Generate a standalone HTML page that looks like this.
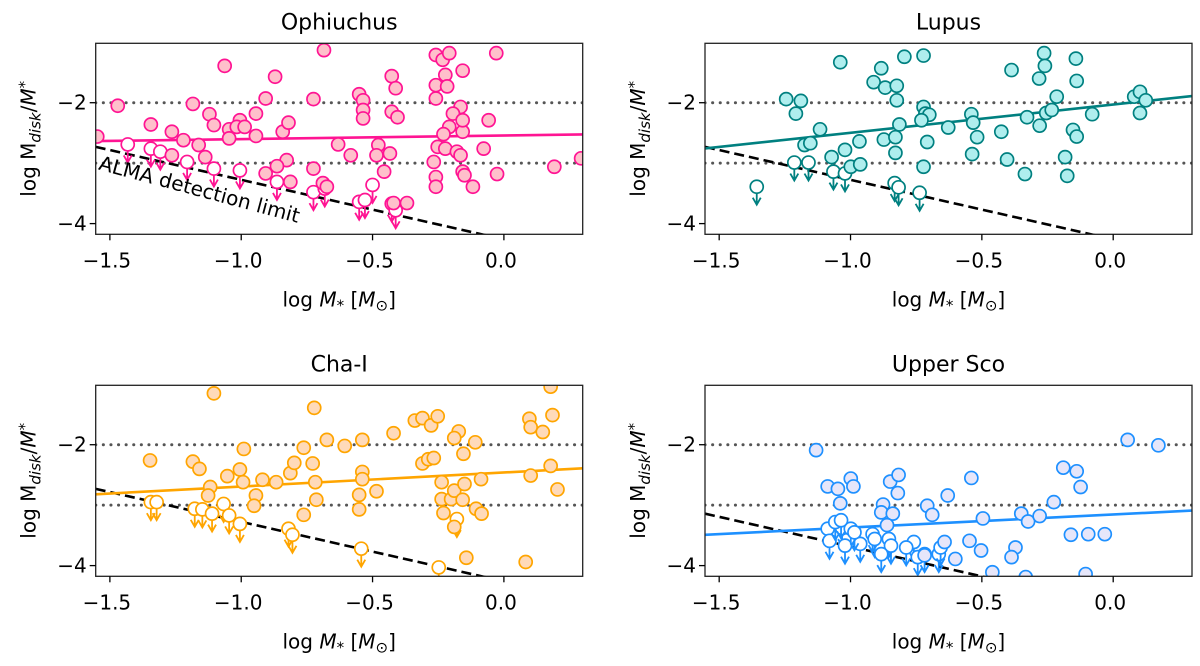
<!DOCTYPE html>
<html><head><meta charset="utf-8"><style>
body{margin:0;background:#fff;}
svg{display:block;font-family:"DejaVu Sans","Liberation Sans",sans-serif;}
</style></head><body>
<svg id="fig" width="1200" height="666" viewBox="0 0 1200 666" xmlns="http://www.w3.org/2000/svg"></svg>
<script>
// ---- data ----
const ophDetX=[-1.548,-1.47,-1.344,-1.264,-1.22,-1.264,-1.184,-1.162,-1.137,-1.121,-1.104,-1.046,-1.046,-1.005,-1.017,-0.987,-0.944,-0.944,-1.063,-0.907,-0.871,-0.842,-0.82,-0.827,-0.864,-0.907,-0.813,-0.725,-0.725,-0.685,-0.689,-0.674,-0.631,-0.583,-0.551,-0.536,-0.536,-0.536,-0.478,-0.485,-0.434,-0.456,-0.427,-0.412,-0.427,-0.405,-0.369,-0.42,-0.259,-0.233,-0.208,-0.223,-0.259,-0.216,-0.259,-0.157,-0.165,-0.194,-0.208,-0.23,-0.157,-0.157,-0.252,-0.223,-0.179,-0.165,-0.267,-0.259,-0.259,-0.157,-0.15,-0.118,-0.077,-0.058,-0.026,-0.029,0.192,0.294];
const ophDetY=[-2.56,-2.05,-2.36,-2.48,-2.62,-2.87,-2.02,-2.70,-2.90,-2.19,-2.37,-2.44,-2.59,-2.29,-2.40,-2.40,-2.18,-2.55,-1.39,-1.93,-1.57,-2.48,-2.33,-2.95,-3.05,-3.17,-3.31,-1.94,-3.09,-1.13,-3.33,-3.39,-2.69,-2.87,-1.86,-1.96,-2.12,-2.26,-2.70,-2.87,-2.84,-3.14,-1.56,-1.76,-2.15,-2.24,-3.66,-3.66,-1.21,-1.29,-1.18,-1.54,-1.71,-1.73,-1.93,-1.47,-2.07,-2.18,-2.40,-2.52,-2.48,-2.29,-2.73,-2.76,-2.81,-2.87,-2.98,-3.23,-3.39,-3.14,-3.20,-3.39,-2.76,-2.29,-3.18,-1.18,-3.06,-2.92];
const ophLimX=[-1.432,-1.344,-1.308,-1.206,-1.104,-1.005,-0.864,-0.725,-0.682,-0.551,-0.5,-0.529,-0.427,-0.412];
const ophLimY=[-2.69,-2.76,-2.81,-2.98,-3.09,-3.12,-3.31,-3.48,-3.42,-3.64,-3.36,-3.61,-3.67,-3.78];
const ophFit=[-2.635,-2.525];

const lupDetX=[-1.245,-1.189,-1.208,-1.039,-1.116,-1.175,-1.153,-1.072,-1.021,-0.999,-0.966,-0.963,-0.912,-0.883,-0.868,-0.824,-0.824,-0.795,-0.722,-0.873,-0.829,-0.829,-0.814,-0.722,-0.715,-0.7,-0.73,-0.708,-0.722,-0.628,-0.54,-0.533,-0.518,-0.537,-0.426,-0.404,-0.387,-0.336,-0.328,-0.282,-0.28,-0.263,-0.26,-0.255,-0.234,-0.215,-0.142,-0.139,-0.153,-0.139,-0.183,-0.175,-0.08,0.08,0.102,0.124,0.102];
const lupDetY=[-1.94,-1.97,-2.18,-1.33,-2.44,-2.70,-2.67,-2.90,-2.78,-3.06,-2.64,-3.02,-1.66,-1.43,-1.75,-1.72,-1.96,-1.24,-1.22,-2.61,-2.57,-2.83,-2.36,-2.07,-2.18,-2.20,-2.29,-2.65,-3.06,-2.41,-2.19,-2.33,-2.57,-2.85,-2.48,-2.94,-1.46,-3.18,-2.24,-1.60,-2.38,-1.18,-1.39,-2.17,-2.12,-1.90,-1.27,-1.64,-2.45,-2.56,-2.90,-3.21,-2.19,-1.90,-1.82,-1.96,-2.17];
const lupLimX=[-1.357,-1.214,-1.16,-1.065,-1.021,-0.832,-0.817,-0.737];
const lupLimY=[-3.39,-2.99,-2.99,-3.14,-3.17,-3.33,-3.40,-3.49];
const lupFit=[-2.757,-1.89];

const chaDetX=[-1.104,-0.722,-1.347,-1.184,-1.159,-1.118,-1.126,-1.053,-1.005,-0.99,-0.993,-0.919,-0.944,-0.951,-0.867,-0.813,-0.798,-0.762,-0.728,-0.718,-0.714,-0.762,-0.674,-0.606,-0.539,-0.539,-0.539,-0.551,-0.551,-0.485,-0.42,-0.339,-0.31,-0.277,-0.252,-0.31,-0.288,-0.267,-0.237,-0.237,-0.23,-0.201,-0.189,-0.172,-0.189,-0.154,-0.15,-0.157,-0.109,-0.106,-0.087,-0.189,-0.085,-0.143,0.083,0.097,0.102,0.148,0.185,0.178,0.102,0.178,0.204];
const chaDetY=[-1.15,-1.39,-2.26,-2.28,-2.40,-2.70,-2.84,-2.52,-2.41,-2.07,-2.62,-2.58,-2.84,-3.01,-2.62,-2.47,-2.30,-2.05,-2.31,-2.62,-2.91,-3.16,-1.92,-2.02,-1.92,-2.45,-2.57,-2.83,-3.07,-2.77,-1.81,-1.60,-1.56,-1.68,-1.53,-2.31,-2.24,-2.22,-2.62,-2.90,-3.13,-2.90,-2.76,-1.78,-1.89,-2.15,-2.65,-2.91,-1.96,-3.06,-2.57,-3.36,-3.14,-3.87,-3.94,-1.57,-1.71,-1.79,-1.51,-1.04,-2.51,-2.35,-2.74];
const chaLimX=[-1.344,-1.322,-1.177,-1.148,-1.111,-1.067,-1.046,-1.005,-0.82,-0.805,-0.543,-0.248,-0.179];
const chaLimY=[-2.95,-2.95,-3.06,-3.07,-3.14,-2.98,-3.17,-3.31,-3.39,-3.49,-3.72,-4.03,-3.23];
const chaFit=[-2.82,-2.39];

const uscDetX=[-1.131,-1.087,-1.048,-0.999,-0.989,-1.039,-0.876,-0.883,-0.839,-0.861,-0.849,-0.817,-0.82,-0.708,-0.689,-0.63,-0.54,-0.496,-0.35,-0.324,-0.28,-0.226,-0.19,-0.139,-0.124,-0.161,-0.095,-0.032,0.055,0.172,-0.547,-0.503,-0.372,-0.387,-0.46,-0.333,-0.105,-0.642,-0.601,-0.718];
const uscDetY=[-2.09,-2.69,-2.73,-2.56,-2.69,-2.97,-2.99,-3.12,-3.14,-3.33,-2.61,-2.50,-2.80,-3.01,-3.16,-2.84,-2.55,-3.22,-3.14,-3.27,-3.18,-2.95,-2.38,-2.44,-2.70,-3.49,-3.48,-3.48,-1.92,-2.01,-3.59,-3.75,-3.70,-3.86,-4.11,-4.19,-4.14,-3.61,-3.89,-3.83];
const uscLimX=[-1.087,-1.032,-0.999,-1.08,-0.963,-0.916,-0.908,-0.854,-0.846,-0.759,-0.718,-0.664,-0.657,-1.021,-0.883,-0.788,-0.744,-1.058,-1.036,-0.985];
const uscLimY=[-3.39,-3.38,-3.39,-3.59,-3.64,-3.48,-3.56,-3.56,-3.67,-3.61,-3.81,-3.81,-3.70,-3.67,-3.81,-3.70,-3.86,-3.28,-3.25,-3.45];
const uscFit=[-3.49,-3.09];

const xTicks=[-1.5,-1.0,-0.5,0.0];
const xTickLabels=["\u22121.5","\u22121.0","\u22120.5","0.0"];
const yTicks=[-2,-4];
const yTickLabels=["\u22122","\u22124"];
const refLevels=[-2,-3];
const detLimitStart=[-2.73,-2.73,-2.73,-3.14]; // y at x=-1.554
const detLimitSlope=-0.985;
// ---- layout ----
const XMIN=-1.554,XMAX=0.30,YMIN=-4.177,YMAX=-1.017;
const NS="http://www.w3.org/2000/svg";
const svg=document.getElementById('fig');
function mk(tag,attrs,parent){const e=document.createElementNS(NS,tag);for(const k in attrs)e.setAttribute(k,attrs[k]);(parent||svg).appendChild(e);return e;}

const panels=[
 {name:"ophiuchus",title:"Ophiuchus",L:95.7,T:43.3,edge:"#ff1493",fill:"#ffc0cb",dx:ophDetX,dy:ophDetY,lx:ophLimX,ly:ophLimY,fit:ophFit,lim:0,alma:true},
 {name:"lupus",title:"Lupus",L:705,T:43.3,edge:"#008080",fill:"#afeeee",dx:lupDetX,dy:lupDetY,lx:lupLimX,ly:lupLimY,fit:lupFit,lim:1},
 {name:"cha-i",title:"Cha-I",L:95.7,T:385.3,edge:"#ffa500",fill:"#ffdab9",dx:chaDetX,dy:chaDetY,lx:chaLimX,ly:chaLimY,fit:chaFit,lim:2},
 {name:"upper-sco",title:"Upper Sco",L:705,T:385.3,edge:"#1e90ff",fill:"#e6e6fa",dx:uscDetX,dy:uscDetY,lx:uscLimX,ly:uscLimY,fit:uscFit,lim:3}
];
const W=487,H=191;
panels.forEach(p=>{
 const X=v=>p.L+(v-XMIN)/(XMAX-XMIN)*W;
 const Y=v=>p.T+(YMAX-v)/(YMAX-YMIN)*H;
 const g=mk('g',{});
 
 
 const cid='clip-'+p.name;
 const cp=mk('clipPath',{id:cid},g);mk('rect',{x:p.L,y:p.T,width:W,height:H},cp);
 const plot=mk('g',{'clip-path':'url(#'+cid+')'},g);
 refLevels.forEach(r=>{const l=mk('line',{x1:p.L,x2:p.L+W,y1:Y(r),y2:Y(r),stroke:'#555','stroke-width':3,'stroke-dasharray':'0.1 7.5','stroke-linecap':'round'},plot);
  
  });
 const y0=detLimitStart[p.lim],y1=y0+detLimitSlope*(XMAX-XMIN);
 const dl=mk('line',{x1:X(XMIN),y1:Y(y0),x2:X(XMAX),y2:Y(y1),stroke:'#000','stroke-width':2.6,'stroke-dasharray':'10 5'},plot);
 
 
 const fl=mk('line',{x1:X(XMIN),y1:Y(p.fit[0]),x2:X(XMAX),y2:Y(p.fit[1]),stroke:p.edge,'stroke-width':2.6},plot);
 
 
 p.lx.forEach((xv,i)=>{const cx=X(xv),cy=Y(p.ly[i]);
  const a=mk('g',{},plot);
  
  
  mk('path',{d:`M${cx},${cy} V${cy+18} M${cx-4},${cy+11} L${cx},${cy+18} L${cx+4},${cy+11}`,stroke:p.edge,'stroke-width':1.8,fill:'none'},a);
  mk('circle',{cx:cx,cy:cy,r:6.5,fill:'#fff',stroke:p.edge,'stroke-width':1.7},a);
 });
 p.dx.forEach((xv,i)=>{const c=mk('circle',{cx:X(xv),cy:Y(p.dy[i]),r:6.5,fill:p.fill,stroke:p.edge,'stroke-width':1.7},plot);
  
  });
 if(p.alma){const t=mk('text',{x:0,y:0,'font-size':20,fill:'#000',transform:`translate(${p.L+2},${p.T+126}) rotate(15)`},plot);
  t.textContent='ALMA detection limit';
  
  }
 const fr=mk('rect',{x:p.L,y:p.T,width:W,height:H,fill:'none',stroke:'#222','stroke-width':1.3},g);
 
 
 xTicks.forEach((t,i)=>{const x=X(t);mk('line',{x1:x,x2:x,y1:p.T+H,y2:p.T+H+6,stroke:'#000','stroke-width':1.3},g);
  const tl=mk('text',{x:x-3,y:p.T+H+33,'font-size':20,'text-anchor':'middle'},g);tl.textContent=xTickLabels[i];
  
  });
 yTicks.forEach((t,i)=>{const y=Y(t);mk('line',{x1:p.L-6,x2:p.L,y1:y,y2:y,stroke:'#000','stroke-width':1.3},g);
  const tl=mk('text',{x:p.L-9,y:y+7,'font-size':20,'text-anchor':'end'},g);tl.textContent=yTickLabels[i];
  
  });
 const tt=mk('text',{x:p.L+W/2,y:p.T-14,'font-size':22,'text-anchor':'middle'},g);tt.textContent=p.title;
 
 
 const xl=mk('text',{x:p.L+W/2,y:p.T+H+72,'font-size':20,'text-anchor':'middle'},g);
 xl.innerHTML='log <tspan font-style="italic">M</tspan><tspan font-size="15" dy="4">*</tspan><tspan dy="-4"> [</tspan><tspan font-style="italic">M</tspan><tspan font-size="15" dy="4">⊙</tspan><tspan dy="-4">]</tspan>';
 
 
 const yl=mk('text',{x:0,y:0,'font-size':20,'text-anchor':'middle',transform:`translate(${p.L-60},${p.T+H/2}) rotate(-90)`},g);
 yl.innerHTML='log M<tspan font-size="15" font-style="italic" dy="5">disk</tspan><tspan dy="-5">/</tspan><tspan font-style="italic">M</tspan><tspan font-size="15" dy="-6">*</tspan>';
 
 
});
</script>
</body></html>
